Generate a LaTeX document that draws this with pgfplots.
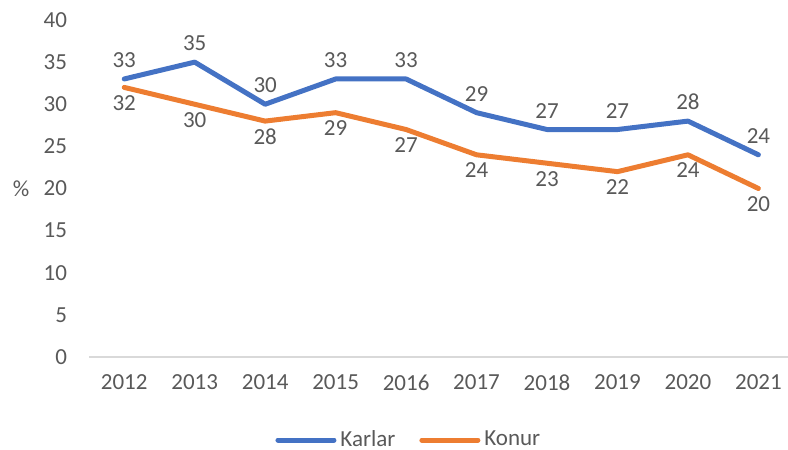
\documentclass[border=0pt]{standalone}
\usepackage{pgfplots}
\pgfplotsset{compat=1.18}
\usepackage{fontspec}
\setmainfont{Carlito}
\definecolor{cblue}{HTML}{4472C4}
\definecolor{corange}{HTML}{ED7D31}
\definecolor{ctext}{HTML}{595959}
\definecolor{caxis}{HTML}{D9D9D9}
\begin{document}
\fontsize{11.5pt}{13.8pt}\selectfont
\begin{tikzpicture}
\path[use as bounding box] (0,0) rectangle (394pt,225pt);
\begin{axis}[
  at={(44.5pt,46.5pt)}, anchor=south west,
  scale only axis, width=349.5pt, height=168.5pt,
  xmin=-0.5, xmax=9.42, ymin=0, ymax=40,
  xtick={0,...,9},
  xticklabels={2012,2013,2014,2015,2016,2017,2018,2019,2020,2021},
  ytick={0,5,...,40},
  /pgf/number format/assume math mode=true,
  axis x line*=bottom,
  axis y line*=left,
  y axis line style={draw=none},
  x axis line style={draw=caxis, line width=0.6pt, -},
  major tick length=0pt,
  tick style={draw=none},
  ticklabel style={font=\fontsize{11.5pt}{13.8pt}\selectfont, text=ctext},
  yticklabel style={anchor=east, xshift=-7pt},
  xticklabel style={anchor=north, yshift=-5pt},
  ylabel={\%},
  ylabel style={rotate=-90, at={(axis description cs:0,0.5)}, anchor=center, xshift=-34pt, text=ctext, font=\fontsize{11.5pt}{13.8pt}\selectfont},
  legend style={at={(axis description cs:0.459,-0.2463)}, anchor=center, draw=none, fill=none,
    legend columns=2, font=\fontsize{11.5pt}{13.8pt}\selectfont, text=ctext,
    /tikz/every even column/.append style={column sep=10pt},
    inner sep=0pt, outer sep=0pt},
  legend image code/.code={\draw[#1, line cap=round] (0pt,0pt) -- (28pt,0pt);},
  clip=false,
  nodes near coords,
  every node near coord/.append style={font=\fontsize{11.5pt}{13.8pt}\selectfont, text=ctext},
]
\addplot[cblue, line width=2.5pt, line cap=round, line join=round,
  nodes near coords align={anchor=south}, every node near coord/.append style={yshift=0.5pt}]
  coordinates {(0,33) (1,35) (2,30) (3,33) (4,33) (5,29) (6,27) (7,27) (8,28) (9,24)};
\addlegendentry{Karlar}
\addplot[corange, line width=2.5pt, line cap=round, line join=round,
  nodes near coords align={anchor=north}, every node near coord/.append style={yshift=1pt}]
  coordinates {(0,32) (1,30) (2,28) (3,29) (4,27) (5,24) (6,23) (7,22) (8,24) (9,20)};
\addlegendentry{Konur}
\end{axis}
\end{tikzpicture}
\end{document}
